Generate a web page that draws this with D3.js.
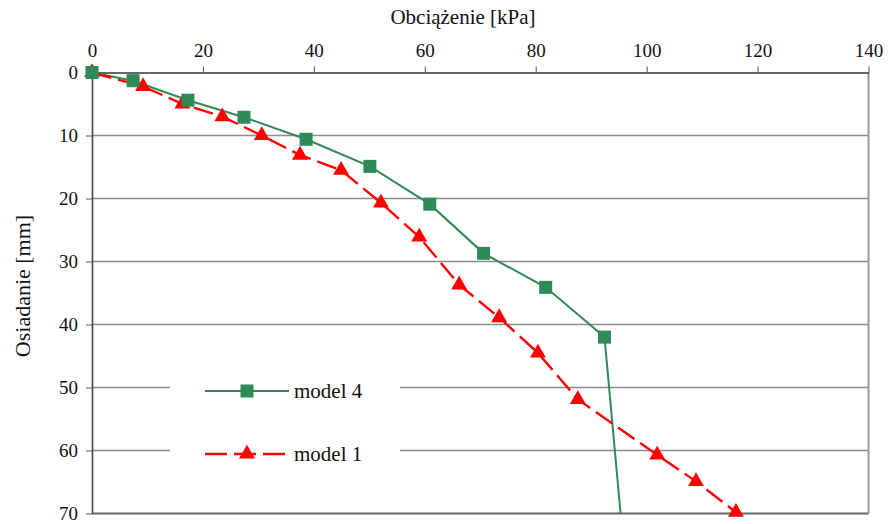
<!DOCTYPE html>
<html>
<head>
<meta charset="utf-8">
<title>Osiadanie</title>
<script src="https://d3js.org/d3.v7.min.js"></script>
<style>
  body { margin: 0; background: #fff; }
  text { font-family: "Liberation Serif", "DejaVu Serif", serif; fill: #111; }
</style>
</head>
<body>
<script>
// obciazenie [kPa] / osiadanie [mm]
var model4X = [0, 7.4, 17.3, 27.4, 38.6, 50.1, 60.9, 70.6, 81.8, 92.4];
var model4Y = [0, 1.3, 4.4, 7.1, 10.6, 14.9, 20.9, 28.7, 34.1, 42.0];
var model4EndX = 95.3, model4EndY = 70;

var model1X = [0, 9.2, 16.3, 23.5, 30.6, 37.5, 44.9, 52.1, 59.0, 66.2, 73.4, 80.4, 87.6, 101.9, 108.9, 116.1];
var model1Y = [0, 2.2, 5.0, 7.0, 10.0, 13.1, 15.5, 20.7, 26.1, 33.7, 38.9, 44.5, 51.9, 60.7, 64.9, 69.8];

var xTicks = [0, 20, 40, 60, 80, 100, 120, 140];
var yTicks = [0, 10, 20, 30, 40, 50, 60, 70];

var w = 888, h = 524;
var pLeft = 92, pRight = 868.5, pTop = 72.5, pBottom = 513.5;
var serif = "'Liberation Serif', 'DejaVu Serif', serif";

var x = d3.scaleLinear().domain([0, 140]).range([pLeft, pRight]);
var y = d3.scaleLinear().domain([0, 70]).range([pTop, pBottom]);

var svg = d3.select("body").append("svg")
    .attr("width", w)
    .attr("height", h);

// grid
svg.append("g").selectAll("line")
    .data(yTicks.slice(1))
    .enter().append("line")
    .attr("x1", pLeft).attr("x2", pRight)
    .attr("y1", function (d) { return y(d); })
    .attr("y2", function (d) { return y(d); })
    .attr("stroke", function (d) { return d === 70 ? "#666" : "#8c8c8c"; })
    .attr("stroke-width", function (d) { return d === 70 ? 2 : 1.3; });

// right border
svg.append("line")
    .attr("x1", pRight).attr("x2", pRight)
    .attr("y1", pTop).attr("y2", pBottom)
    .attr("stroke", "#9a9a9a").attr("stroke-width", 2);

// top axis
var xAxis = svg.append("g")
    .attr("transform", "translate(0," + pTop + ")")
    .call(d3.axisTop(x).tickValues(xTicks).tickSize(6).tickPadding(10).tickSizeOuter(0));
xAxis.attr("font-family", serif).attr("font-size", 19);
xAxis.select(".domain").attr("stroke", "#333").attr("stroke-width", 1.6);
xAxis.selectAll(".tick line").attr("stroke", "#555");
xAxis.selectAll("text").attr("fill", "#111");

// left axis
var yAxis = svg.append("g")
    .attr("transform", "translate(" + pLeft + ",0)")
    .call(d3.axisLeft(y).tickValues(yTicks).tickSize(6).tickPadding(8).tickSizeOuter(0));
yAxis.attr("font-family", serif).attr("font-size", 19);
yAxis.select(".domain").attr("stroke", "#444").attr("stroke-width", 1.6);
yAxis.selectAll(".tick line").attr("stroke", "#555");
yAxis.selectAll("text").attr("fill", "#111");

svg.append("text")
    .attr("x", 463).attr("y", 24)
    .attr("text-anchor", "middle")
    .style("font-size", "21px")
    .text("Obciążenie [kPa]");

svg.append("text")
    .attr("transform", "translate(30,286) rotate(-90)")
    .attr("text-anchor", "middle")
    .style("font-size", "22px")
    .text("Osiadanie [mm]");

var line = d3.line()
    .x(function (d) { return x(d[0]); })
    .y(function (d) { return y(d[1]); });

var m4 = model4X.map(function (v, i) { return [v, model4Y[i]]; });
var m1 = model1X.map(function (v, i) { return [v, model1Y[i]]; });

svg.append("path")
    .datum(m4.concat([[model4EndX, model4EndY]]))
    .attr("d", line)
    .attr("fill", "none")
    .attr("stroke", "#2e8b57")
    .attr("stroke-width", 2);

svg.append("path")
    .datum(m1)
    .attr("d", line)
    .attr("fill", "none")
    .attr("stroke", "#ff0000")
    .attr("stroke-width", 2.4)
    .attr("stroke-dasharray", "20,7");

var tri = d3.symbol().type(d3.symbolTriangle).size(110);

svg.append("g").selectAll("path")
    .data(m1)
    .enter().append("path")
    .attr("d", tri)
    .attr("transform", function (d) { return "translate(" + x(d[0]) + "," + y(d[1]) + ")"; })
    .attr("fill", "#ff0000");

svg.append("g").selectAll("rect")
    .data(m4)
    .enter().append("rect")
    .attr("x", function (d) { return x(d[0]) - 6.5; })
    .attr("y", function (d) { return y(d[1]) - 6.5; })
    .attr("width", 13).attr("height", 13)
    .attr("fill", "#2e8b57");

// legend
var lg = svg.append("g");
lg.append("rect")
    .attr("x", 170).attr("y", 368)
    .attr("width", 230).attr("height", 100)
    .attr("fill", "#fff");

lg.append("line")
    .attr("x1", 205).attr("x2", 289).attr("y1", 391).attr("y2", 391)
    .attr("stroke", "#2e8b57").attr("stroke-width", 2);
lg.append("rect")
    .attr("x", 240.5).attr("y", 384.5).attr("width", 13).attr("height", 13)
    .attr("fill", "#2e8b57");
lg.append("text")
    .attr("x", 294).attr("y", 398)
    .style("font-size", "21px")
    .text("model 4");

lg.append("line")
    .attr("x1", 205).attr("x2", 290).attr("y1", 454).attr("y2", 454)
    .attr("stroke", "#ff0000").attr("stroke-width", 2.4)
    .attr("stroke-dasharray", "22,7");
lg.append("path")
    .attr("d", tri)
    .attr("transform", "translate(247,454)")
    .attr("fill", "#ff0000");
lg.append("text")
    .attr("x", 294).attr("y", 461)
    .style("font-size", "21px")
    .text("model 1");
</script>
</body>
</html>
